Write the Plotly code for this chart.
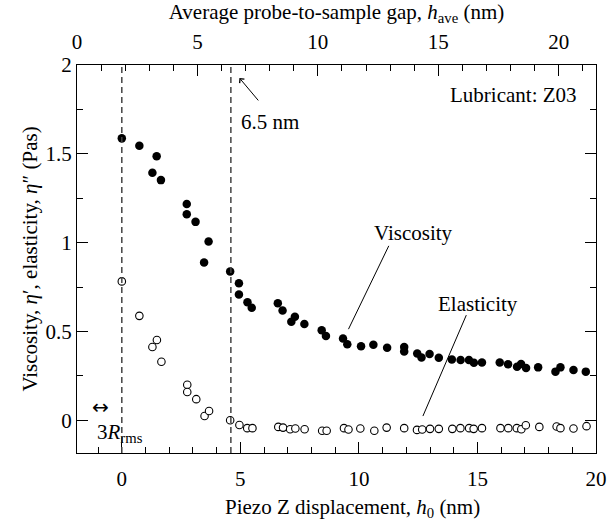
import plotly.graph_objects as go

# ---------------- data ----------------
visc_h0 = [0.0, 0.74, 1.29, 1.47, 1.65, 2.74, 2.74, 3.11, 3.47, 3.66, 4.57, 4.94, 4.94, 5.30, 5.48,
           6.58, 6.78, 7.15, 7.30, 7.70, 8.43, 8.61, 9.33, 9.51, 10.09, 10.61, 11.19, 11.91, 11.91,
           12.46, 12.64, 12.98, 13.37, 13.92, 14.29, 14.64, 14.85, 15.19, 15.94, 16.29, 16.67,
           16.84, 17.05, 17.56, 18.29, 18.50, 19.05, 19.57]
viscosity = [1.587, 1.546, 1.393, 1.486, 1.352, 1.218, 1.160, 1.117, 0.888, 1.006, 0.838, 0.771,
             0.708, 0.665, 0.633, 0.659, 0.618, 0.555, 0.583, 0.542, 0.507, 0.475, 0.460, 0.428,
             0.417, 0.425, 0.408, 0.413, 0.387, 0.376, 0.354, 0.373, 0.352, 0.342, 0.339, 0.339,
             0.324, 0.326, 0.326, 0.315, 0.302, 0.317, 0.294, 0.298, 0.274, 0.298, 0.283, 0.274]

elas_h0 = [0.0, 0.74, 1.29, 1.48, 1.67, 2.76, 2.76, 3.14, 3.49, 3.68, 4.57, 4.96, 5.29, 5.51, 6.60,
           6.80, 7.10, 7.32, 7.71, 8.45, 8.64, 9.37, 9.56, 10.06, 10.65, 11.17, 11.91, 12.45, 12.67,
           13.00, 13.37, 13.94, 14.28, 14.65, 14.84, 15.19, 15.97, 16.30, 16.66, 16.85, 17.04,
           17.61, 18.34, 18.50, 19.05, 19.60]
elasticity = [0.782, 0.588, 0.413, 0.452, 0.330, 0.200, 0.159, 0.119, 0.024, 0.052, 0.0, -0.026,
              -0.044, -0.044, -0.037, -0.041, -0.050, -0.046, -0.050, -0.059, -0.059, -0.044,
              -0.052, -0.046, -0.059, -0.041, -0.044, -0.054, -0.052, -0.048, -0.048, -0.048,
              -0.044, -0.044, -0.048, -0.044, -0.044, -0.044, -0.044, -0.050, -0.028, -0.037,
              -0.035, -0.044, -0.046, -0.033]

ref_lines_h0 = [0.0, 4.6]          # 3R_rms offset and 6.5 nm gap
bottom_ticks = [0, 5, 10, 15, 20]
top_ticks = [0, 5, 10, 15, 20]
y_ticks = [0, 0.5, 1, 1.5, 2]
y_ticklabels = ["0", "0.5", "1", "1.5", "2"]

FONT = "Liberation Serif"
FS = 21

fig = go.Figure()

fig.add_trace(go.Scatter(
    x=visc_h0, y=viscosity, mode="markers", name="Viscosity",
    marker=dict(symbol="circle", size=8.5, color="black", line=dict(width=0)),
    showlegend=False, cliponaxis=False))
fig.add_trace(go.Scatter(
    x=elas_h0, y=elasticity, mode="markers", name="Elasticity",
    marker=dict(symbol="circle", size=7.5, color="white", line=dict(color="black", width=1.1)),
    showlegend=False, cliponaxis=False))
# empty trace to activate the top axis
fig.add_trace(go.Scatter(x=[], y=[], xaxis="x2", yaxis="y", showlegend=False))

axis_common = dict(showline=True, linecolor="black", linewidth=1, ticks="inside",
                   tickwidth=1, tickcolor="black", ticklen=11, showgrid=False, zeroline=False,
                   ticklabeloverflow="allow",
                   tickfont=dict(family=FONT, size=FS, color="black"))

fig.update_layout(
    width=616, height=527,
    margin=dict(l=77, r=9, t=62, b=74),
    paper_bgcolor="white", plot_bgcolor="white",
    font=dict(family=FONT, size=FS, color="black"),
    xaxis=dict(range=[-1.89, 20], tickmode="array", tickvals=bottom_ticks,
               minor=dict(dtick=1, ticks="inside", ticklen=6, tickcolor="black", tickwidth=1),
               ticklabelstandoff=7,
               **axis_common),
    xaxis2=dict(range=[0, 21.55], overlaying="x", side="top", anchor="y",
                tickmode="array", tickvals=top_ticks,
                minor=dict(dtick=1, ticks="inside", ticklen=6, tickcolor="black", tickwidth=1),
                title=dict(text="Average probe-to-sample gap, <i>h</i><sub>ave</sub> (nm)",
                           font=dict(family=FONT, size=FS), standoff=6),
                ticklabelstandoff=7,
                **axis_common),
    yaxis=dict(range=[-0.184, 2.0], tickmode="array", tickvals=y_ticks, ticktext=y_ticklabels,
               minor=dict(dtick=0.25, ticks="inside", ticklen=6, tickcolor="black", tickwidth=1),
               mirror="ticks",
               title=dict(text="Viscosity, <i>η</i>′, elasticity, <i>η</i>″ (Pas)",
                          font=dict(family=FONT, size=FS), standoff=2),
               ticklabelstandoff=0,
               **axis_common),
)

# bottom axis title (placed as annotation to match the reference's offset)
fig.add_annotation(xref="paper", yref="paper", x=0.53, y=-0.142, yanchor="middle",
                   text="Piezo Z displacement, <i>h</i><sub>0</sub> (nm)", showarrow=False,
                   font=dict(family=FONT, size=FS))

# vertical dashed reference lines
for xv in ref_lines_h0:
    fig.add_shape(type="line", xref="x", yref="paper", x0=xv, x1=xv, y0=0, y1=1,
                  line=dict(color="#444444", width=1.5, dash="6px,4px"))

# pointer lines for labels
fig.add_shape(type="line", xref="x", yref="y", x0=11.26, y0=0.982, x1=9.56, y1=0.513,
              line=dict(color="black", width=1))
fig.add_shape(type="line", xref="x", yref="y", x0=14.53, y0=0.592, x1=12.70, y1=0.024,
              line=dict(color="black", width=1))

fig.add_annotation(x=12.3, y=1.052, text="Viscosity", showarrow=False,
                   font=dict(family=FONT, size=FS))
fig.add_annotation(x=15.04, y=0.652, text="Elasticity", showarrow=False,
                   font=dict(family=FONT, size=FS))
fig.add_annotation(x=19.3, y=1.83, text="Lubricant: Z03", showarrow=False, xanchor="right",
                   font=dict(family=FONT, size=FS))
# 6.5 nm arrow
fig.add_annotation(x=4.96, y=1.927, ax=5.81, ay=1.792, axref="x", ayref="y", text="",
                   showarrow=True, arrowhead=4, arrowsize=1.2, arrowwidth=1, arrowcolor="black")
fig.add_annotation(x=4.95, y=1.68, text="6.5 nm", showarrow=False, xanchor="left",
                   font=dict(family=FONT, size=FS))
# 3R_rms marker
fig.add_annotation(x=-0.91, y=0.075, text="↔", showarrow=False,
                   font=dict(family="DejaVu Sans", size=20))
fig.add_annotation(x=-1.12, y=-0.07, text="3<i>R</i><sub>rms</sub>", showarrow=False,
                   xanchor="left", font=dict(family=FONT, size=FS))

fig.write_html("out.html")
